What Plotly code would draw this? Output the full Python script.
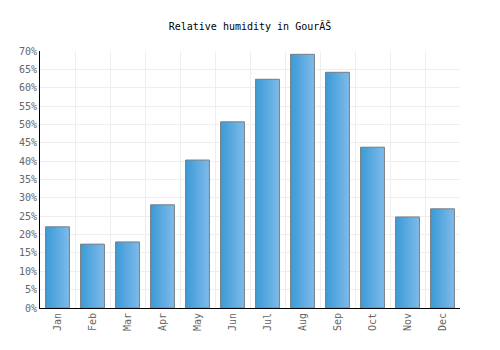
import plotly.graph_objects as go

months = ["Jan","Feb","Mar","Apr","May","Jun","Jul","Aug","Sep","Oct","Nov","Dec"]
humidity = [22.1, 17.4, 18.0, 28.1, 40.3, 50.7, 62.3, 69.1, 64.2, 43.8, 24.8, 27.0]
y_ticks = list(range(0, 75, 5))
y_labels = [f"{v}%" for v in y_ticks]

fig = go.Figure()
n = 24
w = 0.68
c0 = (58, 154, 214)
c1 = (124, 185, 234)
for i in range(n):
    t = i / (n - 1)
    col = tuple(round(c0[k] + (c1[k] - c0[k]) * t) for k in range(3))
    fig.add_trace(go.Bar(x=months, y=humidity, width=w / n + 0.012, offset=-w / 2 + i * w / n,
                         marker=dict(color=f"rgb{col}", line=dict(width=0)),
                         hoverinfo="skip", showlegend=False))
fig.add_trace(go.Bar(x=months, y=humidity, width=w, offset=-w / 2,
                     marker=dict(color="rgba(0,0,0,0)", line=dict(color="#808080", width=1)),
                     showlegend=False))

font = "DejaVu Sans Mono"
fig.update_layout(
    width=500, height=350, barmode="overlay",
    margin=dict(l=40, r=40, t=51, b=42),
    paper_bgcolor="white", plot_bgcolor="white",
    title=dict(text="Relative humidity in GourÃŠ", x=0.5, xanchor="center", y=0.925, yanchor="middle",
               font=dict(family=font, size=10, color="black")),
    font=dict(family=font, size=10, color="#666666"),
)
fig.update_xaxes(tickangle=-90, tickson="boundaries", showgrid=True, gridcolor="#eeeeee",
                 showline=True, linecolor="black", linewidth=1, ticks="", mirror=False,
                 tickfont=dict(family=font, size=10, color="#666666"))
fig.update_yaxes(range=[0, 70], tickvals=y_ticks, ticktext=y_labels, showgrid=True, gridcolor="#eeeeee",
                 showline=True, linecolor="black", linewidth=1, ticks="", zeroline=False,
                 tickfont=dict(family=font, size=10, color="#666666"))
fig.write_html("out.html")
